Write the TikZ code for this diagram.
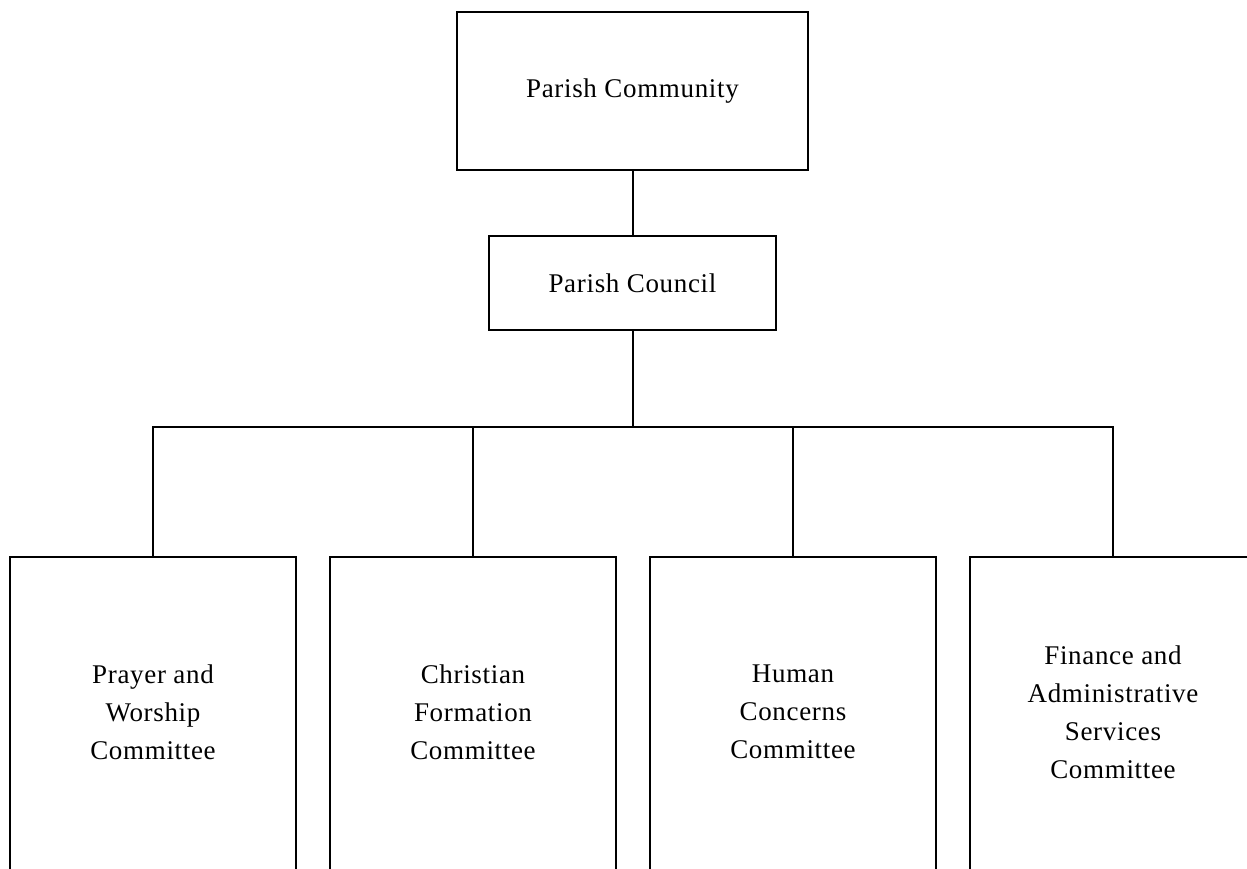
\documentclass[tikz,border=0pt]{standalone}
\usepackage{fontspec}
\setmainfont{Liberation Serif}[LetterSpace=2.5]
\begin{document}
\begin{tikzpicture}[x=1pt,y=-1pt,
  unit box/.style={draw, line width=2.5pt, inner sep=0pt},
  committee box/.style={draw, line width=2pt, minimum width=286pt,
    minimum height=330pt, anchor=north, inner sep=0pt},
  label text/.style={align=center, font=\fontsize{27}{38}\selectfont, inner sep=0pt},
  link/.style={line width=2pt}]
\useasboundingbox (0,0) rectangle (1247,869);
\clip (0,0) rectangle (1247,869);

% upper levels
\node[unit box, label text, minimum width=351pt, minimum height=158pt]
  (community) at (632.5,91) {Parish Community};
\node[unit box, label text, minimum width=287pt, minimum height=94pt]
  (council) at (632.5,283) {Parish Council};

% committee frames (open towards the bottom of the page)
\node[committee box] (prayerbox)    at (153,556)  {};
\node[committee box] (formationbox) at (473,556)  {};
\node[committee box] (concernsbox)  at (793,556)  {};
\node[committee box] (financebox)   at (1113,556) {};

% committee names
\node[label text] (prayer)    at (153,712)  {Prayer and\\Worship\\Committee};
\node[label text] (formation) at (473,712)  {Christian\\Formation\\Committee};
\node[label text] (concerns)  at (793,712)  {Human\\Concerns\\Committee};
\node[label text] (finance)   at (1113,712) {Finance and\\Administrative\\Services\\Committee};

% connectors
\coordinate (bus) at (632.5,427);
\draw[link] (community.south) -- (council.north);
\draw[link] (council.south) -- (bus);
\draw[link] (prayerbox.north) |- (bus) -| (financebox.north);
\draw[link] (formationbox.north) -- (formationbox.north |- bus);
\draw[link] (concernsbox.north) -- (concernsbox.north |- bus);
\end{tikzpicture}
\end{document}
